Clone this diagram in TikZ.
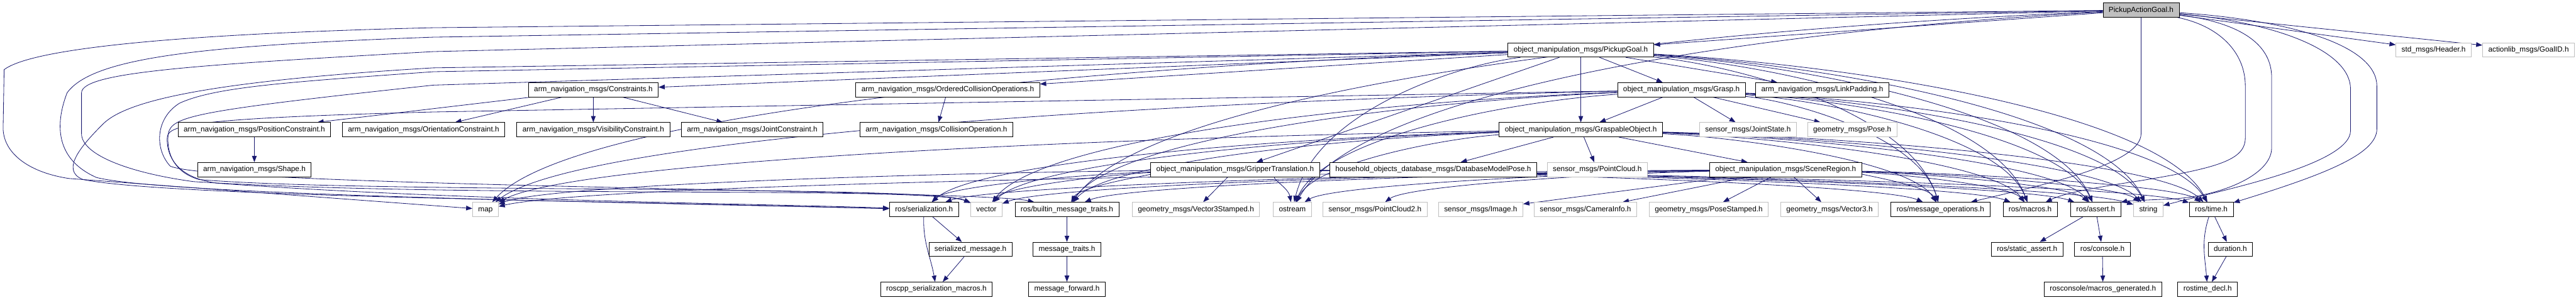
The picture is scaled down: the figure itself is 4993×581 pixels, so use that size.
\documentclass[tikz,border=0pt]{standalone}
\usepackage{fontspec}
\setmainfont{Liberation Sans}
\definecolor{edgeblue}{RGB}{25,25,112}
\definecolor{extgray} {RGB}{191,191,191}
\definecolor{rootgray}{RGB}{191,191,191}
\usetikzlibrary{arrows.meta,backgrounds,calc}
\tikzset{
  box/.style={rectangle,draw=#1,fill=white,line width=1pt,
              minimum height=27.8pt,inner xsep=11pt,inner ysep=0pt,
              text height=10.4pt,text depth=3pt,
              font=\fontsize{14.4}{17}\selectfont},
  box/.default=black,
  rootbox/.style={box,fill=rootgray},
  arr/.style={-{Triangle[length=12pt,width=9pt]},line width=1pt,edgeblue},
}

\begin{document}
\begin{tikzpicture}[x=1pt,y=1pt]
  \useasboundingbox (0,0) rectangle (4993,-581);
  % rows 0-2
  \node[rootbox] (pag) at (4150,-19.5) {PickupActionGoal.h};
  \node[box] (goal) at (3064,-96.8) {object\_manipulation\_msgs/PickupGoal.h};
  \node[box=extgray] (header) at (4717,-96.8) {std\_msgs/Header.h};
  \node[box=extgray] (goalid) at (4901,-96.8) {actionlib\_msgs/GoalID.h};
  \node[box] (constraints) at (1150,-174.1) {arm\_navigation\_msgs/Constraints.h};
  \node[box] (oco) at (1837,-174.1) {arm\_navigation\_msgs/OrderedCollisionOperations.h};
  \node[box] (grasp) at (3259,-174.1) {object\_manipulation\_msgs/Grasp.h};
  \node[box] (linkpad) at (3532,-174.1) {arm\_navigation\_msgs/LinkPadding.h};
  % rows 3-4
  \node[box] (position) at (493,-251.4) {arm\_navigation\_msgs/PositionConstraint.h};
  \node[box] (orientation) at (821,-251.4) {arm\_navigation\_msgs/OrientationConstraint.h};
  \node[box] (visibility) at (1150,-251.4) {arm\_navigation\_msgs/VisibilityConstraint.h};
  \node[box] (joint) at (1458,-251.4) {arm\_navigation\_msgs/JointConstraint.h};
  \node[box] (collop) at (1815,-251.4) {arm\_navigation\_msgs/CollisionOperation.h};
  \node[box] (graspable) at (3064,-251.4) {object\_manipulation\_msgs/GraspableObject.h};
  \node[box=extgray] (jointstate) at (3388,-251.4) {sensor\_msgs/JointState.h};
  \node[box=extgray] (pose) at (3590,-251.4) {geometry\_msgs/Pose.h};
  \node[box] (shape) at (493,-328.7) {arm\_navigation\_msgs/Shape.h};
  \node[box] (gripper) at (2394,-328.7) {object\_manipulation\_msgs/GripperTranslation.h};
  \node[box] (dbpose) at (2778,-328.7) {household\_objects\_database\_msgs/DatabaseModelPose.h};
  \node[box=extgray] (pcloud) at (3096,-328.7) {sensor\_msgs/PointCloud.h};
  \node[box] (scene) at (3461,-328.7) {object\_manipulation\_msgs/SceneRegion.h};
  % row 5
  \node[box=extgray] (map) at (941,-406) {map};
  \node[box] (ser) at (1791,-406) {ros/serialization.h};
  \node[box=extgray] (vector) at (1912,-406) {vector};
  \node[box] (builtin) at (2068,-406) {ros/builtin\_message\_traits.h};
  \node[box=extgray] (vstamped) at (2318,-406) {geometry\_msgs/Vector3Stamped.h};
  \node[box=extgray] (ostream) at (2505,-406) {ostream};
  \node[box=extgray] (pcloudtwo) at (2665,-406) {sensor\_msgs/PointCloud2.h};
  \node[box=extgray] (image) at (2870,-406) {sensor\_msgs/Image.h};
  \node[box=extgray] (caminfo) at (3073,-406) {sensor\_msgs/CameraInfo.h};
  \node[box=extgray] (posestamped) at (3312,-406) {geometry\_msgs/PoseStamped.h};
  \node[box=extgray] (vecthree) at (3546,-406) {geometry\_msgs/Vector3.h};
  \node[box] (msgops) at (3761,-406) {ros/message\_operations.h};
  \node[box] (macros) at (3935,-406) {ros/macros.h};
  \node[box] (assert) at (4062,-406) {ros/assert.h};
  \node[box=extgray] (string) at (4164,-406) {string};
  \node[box] (time) at (4286,-406) {ros/time.h};
  % rows 6-7
  \node[box] (sermsg) at (1881,-483.3) {serialized\_message.h};
  \node[box] (msgtraits) at (2068,-483.3) {message\_traits.h};
  \node[box] (sassert) at (3929,-483.3) {ros/static\_assert.h};
  \node[box] (console) at (4075,-483.3) {ros/console.h};
  \node[box] (duration) at (4323,-483.3) {duration.h};
  \node[box] (rsm) at (1815,-560.6) {roscpp\_serialization\_macros.h};
  \node[box] (msgfwd) at (2068,-560.6) {message\_forward.h};
  \node[box] (macrosgen) at (4076,-560.6) {rosconsole/macros\_generated.h};
  \node[box] (rdecl) at (4279,-560.6) {rostime\_decl.h};

  \begin{scope}[on background layer]
    \foreach \a/\b in {pag/goal, pag/header, pag/goalid,
        goal/constraints, goal/oco, goal/grasp, goal/linkpad, goal/graspable, goal/gripper,
        constraints/position, constraints/orientation, constraints/visibility, constraints/joint,
        position/shape, oco/collop, grasp/graspable, grasp/jointstate, grasp/pose,
        graspable/dbpose, graspable/pcloud, graspable/scene, gripper/vstamped,
        scene/image, scene/caminfo, scene/posestamped, scene/vecthree,
        ser/sermsg, sermsg/rsm, builtin/msgtraits, msgtraits/msgfwd,
        assert/sassert, assert/console, console/macrosgen,
        time/duration, duration/rdecl}
      \draw[arr] (\a) -- (\b);
    \draw[arr] (ser) to[out=-92,in=100] (rsm);
    \draw[arr] (time) to[out=-108,in=95] (rdecl);

    \foreach \s/\t in {pag/builtin, pag/ostream, scene/pcloudtwo,
        goal/map, goal/ostream, goal/msgops, goal/macros, goal/assert, goal/string, goal/time,
        grasp/map, grasp/vector, grasp/builtin, grasp/ostream, grasp/msgops,
        grasp/macros, grasp/assert, grasp/string, grasp/time}
      \draw[arr] let \p1=(\s), \p2=(\t) in
        (\s) .. controls ({\x1+0.45*(\x2-\x1)},{\y1+0.1*(\y2-\y1)})
                 and ({\x2+0.08*(\x1-\x2)},{\y2+0.6*(\y1-\y2)}) .. (\t);
    \foreach \s in {graspable, gripper, scene}
      \foreach \t in {map, ser, vector, builtin, ostream, msgops, macros, assert, string, time}
        \draw[arr] let \p1=(\s), \p2=(\t) in
          (\s) .. controls ({\x1+0.45*(\x2-\x1)},{\y1+0.1*(\y2-\y1)})
                   and ({\x2+0.08*(\x1-\x2)},{\y2+0.6*(\y1-\y2)}) .. (\t);

    \draw[arr] (pag) -- (840,-53.7) .. controls (330,-66) and (60,-95) .. (8,-135)
      -- (6,-250) .. controls (8,-300) and (60,-335) .. (134,-346) -- (map);
    \draw[arr] (pag) -- (840,-72) .. controls (400,-88) and (180,-110) .. (130,-180)
      .. controls (105,-245) and (110,-310) .. (187,-344)
      .. controls (320,-378) and (1200,-392) .. (ser);
    \draw[arr] (pag) -- (840,-100) .. controls (375,-126) and (158,-140) .. (158,-180)
      -- (158,-259) .. controls (158,-300) and (250,-335) .. (375,-352)
      .. controls (900,-385) and (1800,-360) .. (vector);
    \draw[arr] (goal) -- (840,-131.5) .. controls (375,-159) and (241,-200) .. (200,-240)
      .. controls (160,-280) and (115,-330) .. (161,-348)
      .. controls (320,-380) and (1100,-388) .. (ser);
    \draw[arr] (goal) -- (840,-139) .. controls (562,-159) and (418,-168) .. (348,-200)
      .. controls (300,-230) and (300,-290) .. (330,-322)
      .. controls (420,-362) and (1900,-368) .. (builtin);
    \draw[arr] (goal) -- (840,-165) .. controls (375,-215) and (332,-225) .. (326,-260)
      .. controls (322,-300) and (340,-335) .. (386,-348)
      .. controls (700,-375) and (1800,-358) .. (vector);
    \draw[arr] (grasp) -- (840,-217) .. controls (337,-230) and (324,-245) .. (324,-270)
      .. controls (324,-310) and (350,-345) .. (420,-355)
      .. controls (900,-390) and (1500,-395) .. (ser);

    \draw[arr] (pag) .. controls (4450,-40) and (4607,-90) .. (4607,-167)
      -- (4607,-250) .. controls (4607,-300) and (4500,-340) .. (time);
    \draw[arr] (pag) .. controls (4420,-45) and (4556,-100) .. (4556,-173)
      -- (4556,-253) .. controls (4556,-320) and (4300,-370) .. (string);
    \draw[arr] (pag) .. controls (4350,-45) and (4403,-90) .. (4403,-150)
      -- (4403,-287) .. controls (4403,-340) and (4300,-383) .. (4200,-386)
      .. controls (4150,-388) and (4120,-390) .. (assert);
    \draw[arr] (pag) .. controls (4300,-50) and (4352,-100) .. (4352,-167)
      -- (4352,-267) .. controls (4352,-310) and (4300,-325) .. (4150,-350)
      .. controls (4050,-365) and (4000,-375) .. (macros);
    \draw[arr] (pag) -- (4150,-259) .. controls (4150,-320) and (3950,-360) .. (msgops);
  \end{scope}
\end{tikzpicture}
\end{document}
